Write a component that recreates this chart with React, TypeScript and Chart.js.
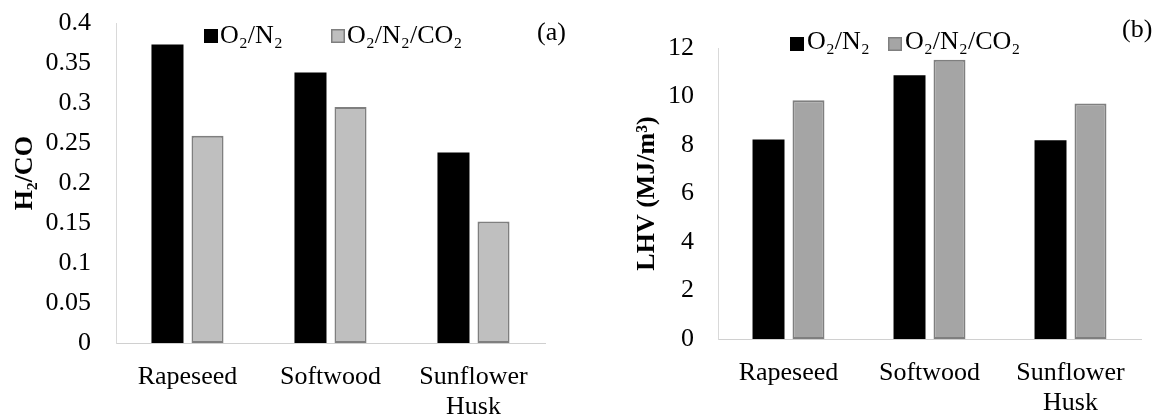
import React, { useEffect, useRef } from "react";
import { Chart, registerables } from "chart.js";

Chart.register(...registerables);

// ---------- data ----------
const categories: (string | string[])[] = ["Rapeseed", "Softwood", ["Sunflower", "Husk"]];
const seriesNames = ["O₂/N₂", "O₂/N₂/CO₂"];
const h2coO2N2 = [0.373, 0.338, 0.238];
const h2coO2N2CO2 = [0.259, 0.295, 0.152];
const lhvO2N2 = [8.23, 10.88, 8.2];
const lhvO2N2CO2 = [9.85, 11.52, 9.71];
const h2coTicks = [0, 0.05, 0.1, 0.15, 0.2, 0.25, 0.3, 0.35, 0.4];
const lhvTicks = [0, 2, 4, 6, 8, 10, 12];

const FONT = '"Liberation Serif", "Times New Roman", serif';

const fmt = (v: number) => String(Math.round(Number(v) * 100) / 100);

const overlayPlugin = {
  id: "overlay",
  afterDraw(chart: any, _args: any, opts: any) {
    const ctx = chart.ctx as CanvasRenderingContext2D;
    ctx.save();
    ctx.font = `${opts.size}px ${FONT}`;
    ctx.textBaseline = "alphabetic";
    ctx.textAlign = "left";
    chart.data.datasets.forEach((ds: any, i: number) => {
      const x = opts.boxX[i];
      const s = opts.boxSize;
      const bw = opts.boxBorder[i];
      ctx.fillStyle = ds.borderColor;
      ctx.fillRect(x, opts.boxTop, s, s);
      ctx.fillStyle = ds.backgroundColor;
      ctx.fillRect(x + bw, opts.boxTop + bw, s - 2 * bw, s - 2 * bw);
      ctx.fillStyle = "#000";
      ctx.fillText(ds.label, x + s + opts.gap, opts.baseline);
    });
    ctx.fillText(opts.panel, opts.panelX, opts.panelBaseline);
    ctx.restore();
  },
};

interface PanelProps {
  left: number;
  width: number;
  values: number[][];
  grayFill: string;
  ticks: number[];
  yMax: number;
  title: string;
  titleCenterX: number;
  plotLeft: number;
  plotRight: number;
  plotTop: number;
  plotBottom: number;
  tickPad: number;
  catPct: number;
  overlay: any;
}

function BarPanel(p: PanelProps) {
  const ref = useRef<HTMLCanvasElement>(null);
  useEffect(() => {
    if (!ref.current) return;
    const tickFont = { family: FONT, size: 26, lineHeight: 30 / 26 };
    const chart = new Chart(ref.current, {
      type: "bar",
      data: {
        labels: categories as any,
        datasets: [
          {
            label: seriesNames[0],
            data: p.values[0],
            backgroundColor: "#000000",
            borderColor: "#000000",
            borderWidth: 0,
            barPercentage: 0.8,
            categoryPercentage: p.catPct,
          },
          {
            label: seriesNames[1],
            data: p.values[1],
            backgroundColor: p.grayFill,
            borderColor: "#7f7f7f",
            borderWidth: 2,
            borderSkipped: false,
            barPercentage: 0.8,
            categoryPercentage: p.catPct,
          },
        ],
      },
      options: {
        animation: false,
        responsive: true,
        maintainAspectRatio: false,
        layout: {
          padding: { left: 0, top: p.plotTop, right: p.width - p.plotRight, bottom: 0 },
        },
        plugins: {
          legend: { display: false },
          tooltip: { enabled: false },
          overlay: p.overlay,
        } as any,
        scales: {
          x: {
            afterFit: (s: any) => {
              s.height = 416 - p.plotBottom;
            },
            grid: { display: false, drawTicks: true, tickLength: 16 },
            border: { display: true, color: "#d0d0d0", width: 1 },
            ticks: {
              padding: 3,
              color: "#000",
              font: tickFont,
              maxRotation: 0,
              autoSkip: false,
            },
          },
          y: {
            min: 0,
            max: p.yMax,
            afterFit: (s: any) => {
              s.width = p.plotLeft;
            },
            afterBuildTicks: (s: any) => {
              s.ticks = p.ticks.map((v) => ({ value: v }));
            },
            grid: { display: false, drawTicks: true, tickLength: p.tickPad - 3 },
            border: { display: true, color: "#d9d9d9", width: 1 },
            ticks: {
              padding: 3,
              color: "#000",
              font: tickFont,
              callback: (v: any) => fmt(v),
            },
            title: {
              display: true,
              text: p.title,
              color: "#000",
              font: { family: FONT, size: 26, weight: "bold", lineHeight: 1.2 },
              padding: { top: p.titleCenterX - 15.6, bottom: 0 },
            },
          },
        },
      } as any,
      plugins: [overlayPlugin as any],
    });
    return () => chart.destroy();
  }, []);
  return (
    <div style={{ position: "absolute", left: p.left, top: 0, width: p.width, height: 416 }}>
      <canvas ref={ref} style={{ display: "block" }} />
    </div>
  );
}

export default function App() {
  return (
    <div style={{ position: "absolute", left: 0, top: 0, width: 1157, height: 416, background: "#fff" }}>
      <BarPanel
        left={0}
        width={578}
        values={[h2coO2N2, h2coO2N2CO2]}
        grayFill="#bfbfbf"
        ticks={h2coTicks}
        yMax={0.4}
        title={"   H₂/CO"}
        titleCenterX={25}
        plotLeft={116}
        plotRight={545}
        plotTop={23}
        plotBottom={343}
        tickPad={25}
        catPct={0.56}
        overlay={{
          size: 26,
          boxX: [204, 331],
          boxTop: 29,
          boxSize: 14,
          boxBorder: [0, 1.5],
          gap: 2,
          baseline: 43,
          panel: "(a)",
          panelX: 537,
          panelBaseline: 40,
        }}
      />
      <BarPanel
        left={578}
        width={579}
        values={[lhvO2N2, lhvO2N2CO2]}
        grayFill="#a5a5a5"
        ticks={lhvTicks}
        yMax={12}
        title={"LHV (MJ/m³)"}
        titleCenterX={69}
        plotLeft={140}
        plotRight={563}
        plotTop={48}
        plotBottom={339}
        tickPad={24}
        catPct={0.567}
        overlay={{
          size: 26,
          boxX: [212, 310],
          boxTop: 37,
          boxSize: 14,
          boxBorder: [0, 1.5],
          gap: 3,
          baseline: 49,
          panel: "(b)",
          panelX: 544,
          panelBaseline: 37,
        }}
      />
    </div>
  );
}
